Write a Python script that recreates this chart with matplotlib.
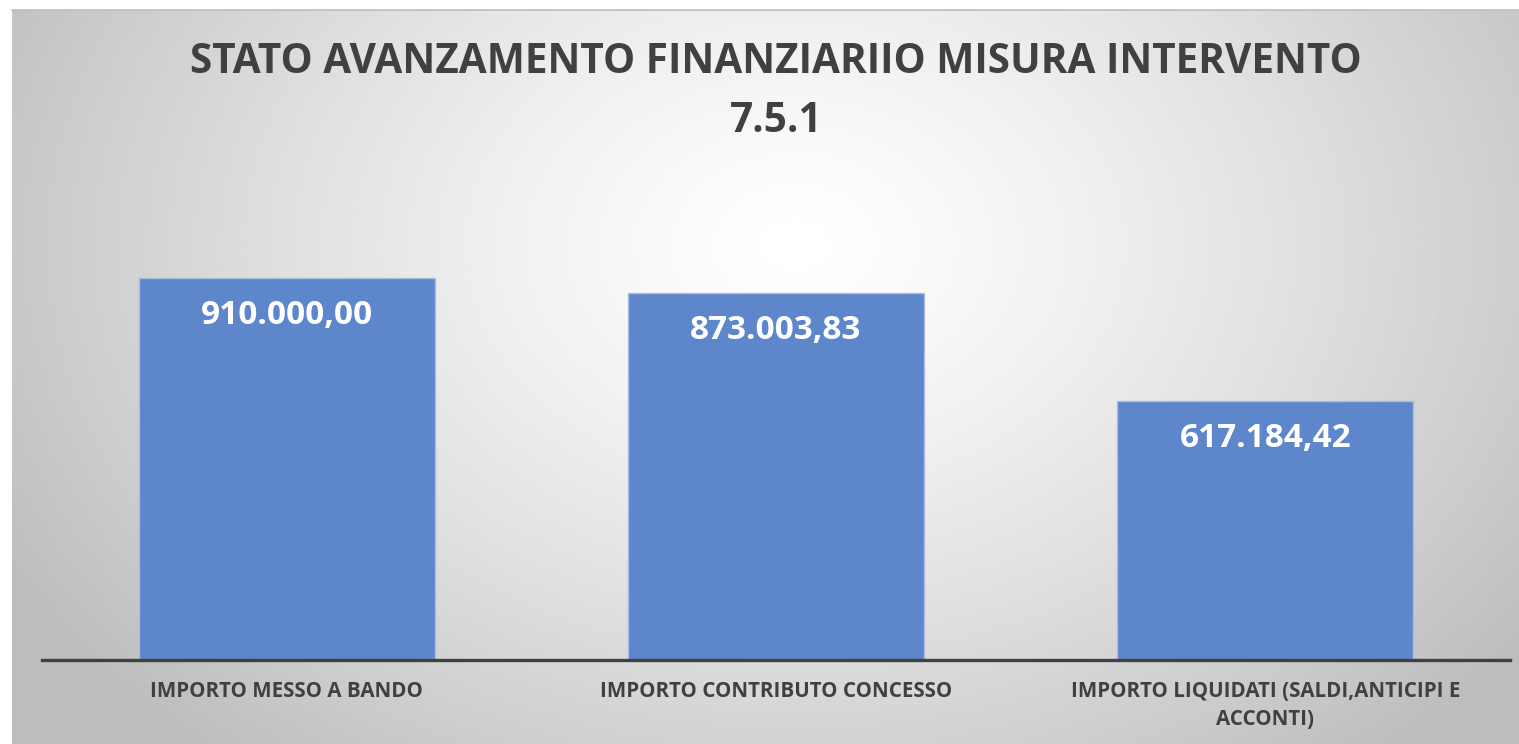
import numpy as np
import matplotlib.pyplot as plt

categories = ["IMPORTO MESSO A BANDO",
              "IMPORTO CONTRIBUTO CONCESSO",
              "IMPORTO LIQUIDATI (SALDI,ANTICIPI E\nACCONTI)"]
values = [910000.00, 873003.83, 617184.42]
value_labels = ["910.000,00", "873.003,83", "617.184,42"]
title = "STATO AVANZAMENTO FINANZIARIIO MISURA INTERVENTO\n7.5.1"

W, H = 1519, 744
fig = plt.figure(figsize=(W / 100, H / 100), dpi=100)
fig.patch.set_facecolor("white")

# radial gradient background of the chart area
bg = fig.add_axes([12 / W, 0, 1 - 12 / W, 1 - 10 / H])
yy, xx = np.mgrid[0:1:300j, 0:1:600j]
r = np.sqrt(((xx - 0.52) / 0.62) ** 2 + ((yy - 0.32) / 0.95) ** 2)
shade = np.clip(1.0 - 0.27 * r ** 1.3, 0.74, 1.0)
bg.imshow(shade, cmap="gray", vmin=0, vmax=1, aspect="auto",
          extent=[0, 1, 0, 1], origin="upper")
bg.set_axis_off()
fig.add_artist(plt.Line2D([12 / W, 1], [1 - 10 / H, 1 - 10 / H],
                          color="#bdbdbd", lw=1.2))

ax = fig.add_axes([42 / W, (H - 660) / H, 1468 / W, 420 / H])
ax.patch.set_alpha(0)
x = np.arange(len(categories))
bars = ax.bar(x, values, width=0.605, color="#5e86cb",
              edgecolor="#a8bde3", linewidth=1, zorder=2)
ax.set_xlim(-0.5, 2.5)
ax.set_ylim(0, 1000000)

for b, lab in zip(bars, value_labels):
    ax.annotate(lab, (b.get_x() + b.get_width() / 2, b.get_height()),
                xytext=(0, -27), textcoords="offset points",
                ha="center", va="center", color="white",
                fontsize=24, fontweight="bold", family="Open Sans")

for s in ["top", "right", "left"]:
    ax.spines[s].set_visible(False)
ax.spines["bottom"].set_color("#404040")
ax.spines["bottom"].set_linewidth(2.4)
ax.set_yticks([])
ax.set_xticks(x)
ax.set_xticklabels(categories, fontsize=14.8, fontweight="bold",
                   family="Open Sans", color="#404040", linespacing=1.45)
ax.tick_params(axis="x", length=0, pad=15)

fig.text(776 / W, 1 - 92 / H, title, ha="center", va="center",
         fontsize=29.2, fontweight="bold", family="Open Sans",
         color="#404040", linespacing=1.6)

fig.savefig("out.png", dpi=100)
